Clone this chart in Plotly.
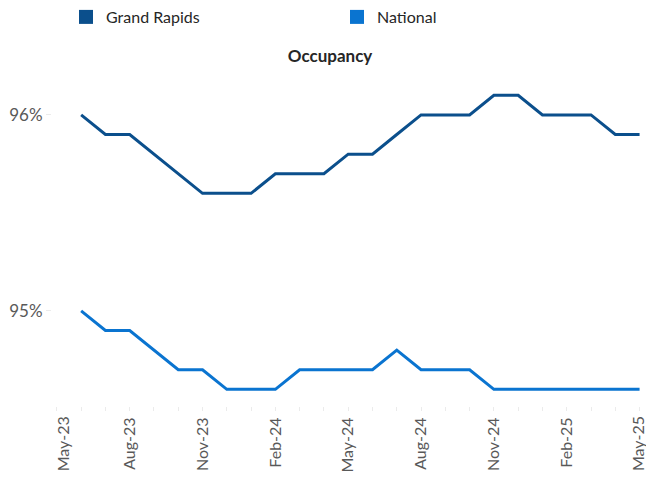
import plotly.graph_objects as go

months = ["May-23", "Jun-23", "Jul-23", "Aug-23", "Sep-23", "Oct-23", "Nov-23", "Dec-23",
          "Jan-24", "Feb-24", "Mar-24", "Apr-24", "May-24", "Jun-24", "Jul-24", "Aug-24",
          "Sep-24", "Oct-24", "Nov-24", "Dec-24", "Jan-25", "Feb-25", "Mar-25", "Apr-25", "May-25"]
grand_rapids = [None, 96.0, 95.9, 95.9, 95.8, 95.7, 95.6, 95.6, 95.6, 95.7, 95.7, 95.7, 95.8,
                95.8, 95.9, 96.0, 96.0, 96.0, 96.1, 96.1, 96.0, 96.0, 96.0, 95.9, 95.9]
national = [None, 95.0, 94.9, 94.9, 94.8, 94.7, 94.7, 94.6, 94.6, 94.6, 94.7, 94.7, 94.7,
            94.7, 94.8, 94.7, 94.7, 94.7, 94.6, 94.6, 94.6, 94.6, 94.6, 94.6, 94.6]
tick_labels = ["May-23", "Aug-23", "Nov-23", "Feb-24", "May-24", "Aug-24", "Nov-24", "Feb-25", "May-25"]
y_ticks = [95, 96]
y_tick_text = ["95%", "96%"]

c_gr = "#0B4F8C"
c_nat = "#0A74D0"
FONT = "Lato, Open Sans, sans-serif"
TICK_COLOR = "#595959"

fig = go.Figure()
fig.add_trace(go.Scatter(x=months, y=grand_rapids, mode="lines", name="Grand Rapids",
                         line=dict(color=c_gr, width=3), showlegend=False))
fig.add_trace(go.Scatter(x=months, y=national, mode="lines", name="National",
                         line=dict(color=c_nat, width=3), showlegend=False))
# legend entries with square swatches
fig.add_trace(go.Scatter(x=[None], y=[None], mode="markers", name="Grand Rapids",
                         marker=dict(symbol="square", size=14, color=c_gr)))
fig.add_trace(go.Scatter(x=[None], y=[None], mode="markers", name="National",
                         marker=dict(symbol="square", size=14, color=c_nat)))

# inner tick labels drawn by the axis; the two edge labels nudged inward like the original
inner = tick_labels[1:-1]
edge_shift = {tick_labels[0]: 6, tick_labels[-1]: -2}
annotations = []
for lab, sh in edge_shift.items():
    annotations.append(dict(x=lab, xref="x", y=0, yref="paper", text=lab, showarrow=False,
                            textangle=-90, xanchor="center", yanchor="top", yshift=-8, xshift=sh,
                            font=dict(size=16, color=TICK_COLOR, family=FONT)))

fig.update_layout(
    width=646, height=482,
    margin=dict(l=52, r=4, t=73, b=76),
    paper_bgcolor="white", plot_bgcolor="white",
    font=dict(family=FONT, color=TICK_COLOR),
    title=dict(text="<b>Occupancy</b>", x=0.511, xanchor="center", y=1 - 56 / 482,
               yanchor="middle", font=dict(size=17, color="#262626", family=FONT)),
    legend=dict(orientation="h", xref="container", x=66 / 646, xanchor="left",
                yref="container", y=1 - 17 / 482, yanchor="middle",
                entrywidth=226, entrywidthmode="pixels",
                font=dict(size=16, color="#262626", family=FONT), itemclick=False),
    annotations=annotations,
    xaxis=dict(type="category", categoryorder="array", categoryarray=months,
               range=[-0.2, 24.1], tickmode="array", tickvals=inner, ticktext=inner,
               tickangle=-90, tickfont=dict(size=16, color=TICK_COLOR),
               showgrid=False, zeroline=False, showline=False, automargin=False,
               ticks="outside", ticklen=4, tickcolor="#EBEBEB",
               minor=dict(ticks="outside", ticklen=4, tickcolor="#EBEBEB", dtick=1, showgrid=False)),
    yaxis=dict(range=[94.515, 96.214], tickmode="array", tickvals=y_ticks, ticktext=y_tick_text,
               tickfont=dict(size=17, color=TICK_COLOR), showgrid=False, zeroline=False,
               showline=False, automargin=False, ticks="outside", ticklen=5, tickcolor="#EBEBEB"),
)

fig.write_html("out.html", config={"displayModeBar": False},
               post_script="document.body.style.margin='0px';")
